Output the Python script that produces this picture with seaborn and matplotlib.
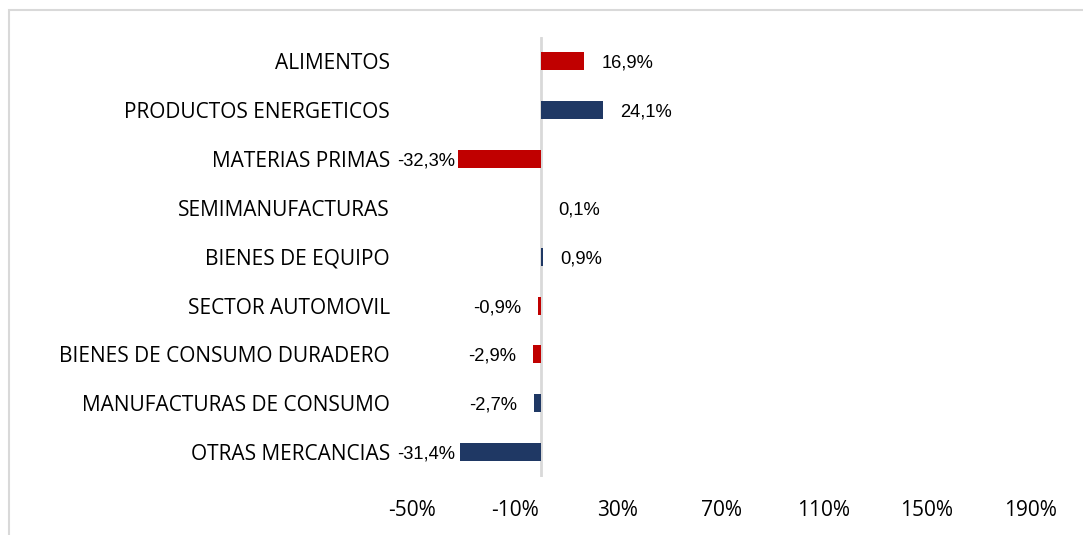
import matplotlib
matplotlib.use('Agg')
import matplotlib.pyplot as plt
import seaborn as sns
import pandas as pd
from matplotlib.patches import Rectangle

categories = ["ALIMENTOS", "PRODUCTOS ENERGETICOS", "MATERIAS PRIMAS", "SEMIMANUFACTURAS",
              "BIENES DE EQUIPO", "SECTOR AUTOMOVIL", "BIENES DE CONSUMO DURADERO",
              "MANUFACTURAS DE CONSUMO", "OTRAS MERCANCIAS"]
values = [16.9, 24.1, -32.3, 0.1, 0.9, -0.9, -2.9, -2.7, -31.4]
bar_colors = ["#C00000", "#1F3864", "#C00000", "#C00000", "#1F3864",
              "#C00000", "#C00000", "#1F3864", "#1F3864"]
x_ticks = [-50, -10, 30, 70, 110, 150, 190]

sns.set_theme(style="white")
plt.rcParams['font.family'] = ['Open Sans', 'DejaVu Sans']

W, H = 1083, 535
fig = plt.figure(figsize=(W / 100, H / 100), dpi=100)
ax = fig.add_axes([412 / W, 1 - 476.5 / H, 618 / W, 439.5 / H])

df = pd.DataFrame({"cat": categories, "val": values})
sns.barplot(data=df, x="val", y="cat", hue="cat", order=categories, hue_order=categories,
            palette=dict(zip(categories, bar_colors)), dodge=False, legend=False,
            width=0.37, saturation=1, orient='h', ax=ax, zorder=2, linewidth=0)

ax.set_xlim(-50, 190)
ax.set_ylim(len(categories) - 0.5, -0.5)
ax.axvline(0, color='#D9D9D9', lw=2, zorder=1)
for s in ax.spines.values():
    s.set_visible(False)
ax.set_xlabel("")
ax.set_ylabel("")
ax.set_xticks(x_ticks)
ax.set_xticklabels([f"{t}%" for t in x_ticks], fontsize=15, color='#000000')
ax.tick_params(axis='x', length=0, pad=17)
ax.tick_params(axis='y', length=0, pad=16)
for lab in ax.get_yticklabels():
    lab.set_fontsize(15)
    lab.set_color('#000000')
ax.grid(False)

texts = []
for i, v in enumerate(values):
    txt = f"{v:.1f}%".replace('.', ',')
    if v >= 0:
        t = ax.annotate(txt, xy=(v, i), xytext=(17, 0), textcoords='offset pixels',
                        ha='left', va='center_baseline', fontsize=13.2,
                        family=['Liberation Sans', 'DejaVu Sans'], color='#000000')
    else:
        t = ax.annotate(txt, xy=(v, i), xytext=(-17, 0), textcoords='offset pixels',
                        ha='right', va='center_baseline', fontsize=13.2,
                        family=['Liberation Sans', 'DejaVu Sans'], color='#000000')
    texts.append((t, v))

fig.canvas.draw()
renderer = fig.canvas.get_renderer()
min_left = 397
for t, v in texts:
    if v < 0:
        bb = t.get_window_extent(renderer)
        if bb.x0 < min_left:
            shift = min_left - bb.x0
            t.xyann = (-17 + shift, 0)

fig.add_artist(Rectangle((9 / W, -0.05), 1.1, 1 - 10 / H + 0.05, transform=fig.transFigure,
                         fill=False, ec='#D9D9D9', lw=1.5))

fig.savefig('out.png', dpi=100)
